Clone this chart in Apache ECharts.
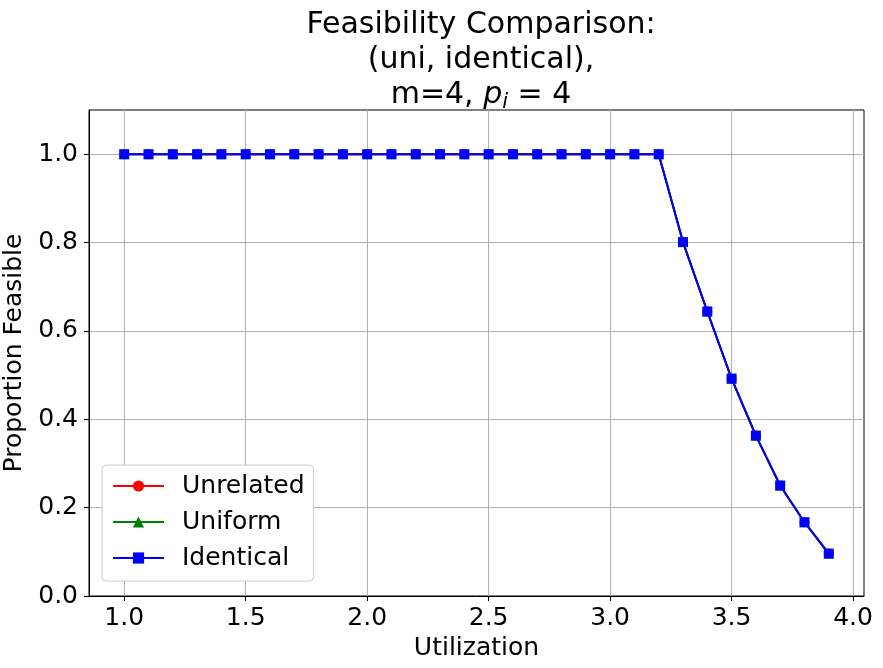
<!DOCTYPE html>
<html>
<head>
<meta charset="utf-8">
<script src="https://cdn.jsdelivr.net/npm/echarts@6/dist/echarts.min.js"></script>
<style>
  html, body { margin: 0; padding: 0; background: #fff; }
  #main { width: 883px; height: 668px; }
</style>
</head>
<body>
<div id="main"></div>
<script>
var FONT = 'DejaVu Sans';

// utilization values on the x axis
var utilization = [1.0, 1.1, 1.2, 1.3, 1.4, 1.5, 1.6, 1.7, 1.8, 1.9, 2.0, 2.1, 2.2, 2.3, 2.4,
  2.5, 2.6, 2.7, 2.8, 2.9, 3.0, 3.1, 3.2, 3.3, 3.4, 3.5, 3.6, 3.7, 3.8, 3.9];

var unrelated = [1, 1, 1, 1, 1, 1, 1, 1, 1, 1, 1, 1, 1, 1, 1,
  1, 1, 1, 1, 1, 1, 1, 1, 0.801, 0.644, 0.492, 0.363, 0.250, 0.167, 0.096];
var uniform = [1, 1, 1, 1, 1, 1, 1, 1, 1, 1, 1, 1, 1, 1, 1,
  1, 1, 1, 1, 1, 1, 1, 1, 0.801, 0.644, 0.492, 0.363, 0.250, 0.167, 0.096];
var identical = [1, 1, 1, 1, 1, 1, 1, 1, 1, 1, 1, 1, 1, 1, 1,
  1, 1, 1, 1, 1, 1, 1, 1, 0.801, 0.644, 0.492, 0.363, 0.250, 0.167, 0.096];

var xTicks = [1.0, 1.5, 2.0, 2.5, 3.0, 3.5, 4.0];
var yTicks = [0.0, 0.2, 0.4, 0.6, 0.8, 1.0];

function pairs(ys) {
  var out = [];
  for (var i = 0; i < utilization.length; i++) {
    out.push([utilization[i], ys[i]]);
  }
  return out;
}

function makeSeries(name, ys, color, symbol) {
  return {
    name: name,
    type: 'line',
    data: pairs(ys),
    symbol: symbol,
    symbolSize: 10,
    showAllSymbol: true,
    lineStyle: { color: color, width: 2 },
    itemStyle: { color: color },
    emphasis: { disabled: true }
  };
}

var myChart = echarts.init(document.getElementById('main'));
var option = {
  animation: false,
  backgroundColor: '#fff',
  title: {
    text: 'Feasibility Comparison:\n(uni, identical),\nm=4, {it|p}{sub|i} = 4',
    left: 476,
    textAlign: 'center',
    top: 3,
    textStyle: {
      fontFamily: FONT,
      fontSize: 30,
      fontWeight: 'normal',
      color: '#000',
      lineHeight: 35,
      rich: {
        it: { fontFamily: FONT, fontSize: 30, fontStyle: 'italic', color: '#000', lineHeight: 35 },
        sub: { fontFamily: FONT, fontSize: 21, fontStyle: 'italic', color: '#000', lineHeight: 35, padding: [14, 0, 0, 0] }
      }
    }
  },
  legend: {
    orient: 'vertical',
    left: 102,
    top: 465,
    backgroundColor: '#fff',
    borderColor: '#cccccc',
    borderWidth: 1,
    borderRadius: 4,
    padding: [8, 9, 10, 10],
    itemWidth: 51,
    itemHeight: 14,
    itemGap: 10,
    textStyle: {
      fontFamily: FONT,
      fontSize: 25,
      color: '#000',
      lineHeight: 26,
      padding: [0, 0, 0, 13]
    },
    data: ['Unrelated', 'Uniform', 'Identical']
  },
  grid: {
    left: 89,
    right: 19,
    top: 110,
    bottom: 72,
    show: true,
    borderColor: '#000',
    borderWidth: 1,
    outerBoundsMode: 'none'
  },
  xAxis: {
    type: 'value',
    min: 0.855,
    max: 4.045,
    name: 'Utilization',
    nameLocation: 'middle',
    nameGap: 29,
    nameTextStyle: { fontFamily: FONT, fontSize: 25, color: '#000' },
    axisLine: { lineStyle: { color: '#000', width: 1 } },
    axisTick: { show: true, length: 5, lineStyle: { color: '#000' }, customValues: xTicks },
    axisLabel: {
      customValues: xTicks,
      margin: 10,
      fontFamily: FONT,
      fontSize: 25,
      color: '#000',
      formatter: function(v) { return v.toFixed(1); }
    },
    splitLine: { show: true, lineStyle: { color: '#b0b0b0', width: 1 } }
  },
  yAxis: {
    type: 'value',
    min: 0,
    max: 1.1,
    name: 'Proportion Feasible',
    nameLocation: 'middle',
    nameGap: 50,
    nameTextStyle: { fontFamily: FONT, fontSize: 25, color: '#000' },
    axisLine: { show: true, lineStyle: { color: '#000', width: 1 } },
    axisTick: { show: true, length: 5, lineStyle: { color: '#000' }, customValues: yTicks },
    axisLabel: {
      customValues: yTicks,
      margin: 11,
      fontFamily: FONT,
      fontSize: 25,
      color: '#000',
      formatter: function(v) { return v.toFixed(1); }
    },
    splitLine: { show: true, lineStyle: { color: '#b0b0b0', width: 1 } }
  },
  series: [
    makeSeries('Unrelated', unrelated, '#ff0000', 'circle'),
    makeSeries('Uniform', uniform, '#008000', 'triangle'),
    makeSeries('Identical', identical, '#0000ff', 'rect')
  ]
};
myChart.setOption(option);
</script>
</body>
</html>
